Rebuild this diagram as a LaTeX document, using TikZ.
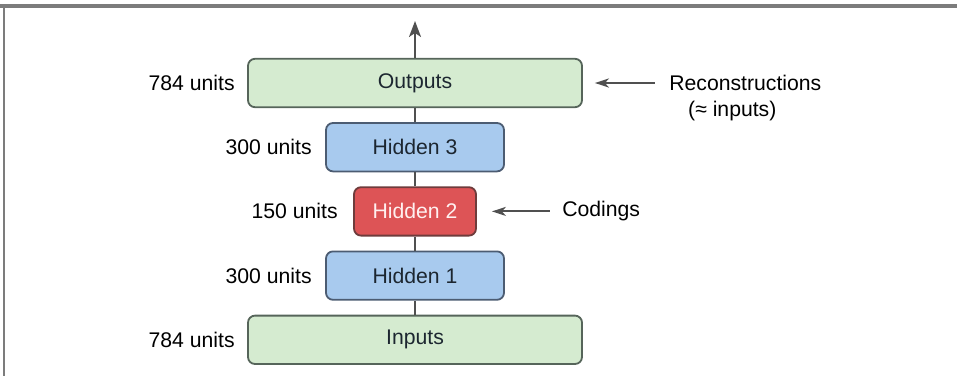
\documentclass[tikz,border=0pt]{standalone}
\usepackage{fontspec}
\setmainfont{Liberation Sans}
\usepackage{xcolor}
\usepackage{tikz}
\usetikzlibrary{arrows.meta,positioning}
\definecolor{grnfill}{HTML}{D5EBD0}
\definecolor{grnline}{HTML}{56655A}
\definecolor{bluefill}{HTML}{A8CAEE}
\definecolor{blueline}{HTML}{4C5C72}
\definecolor{redfill}{HTML}{DD5456}
\definecolor{redline}{HTML}{6E3C3C}
\definecolor{inkg}{HTML}{505050}
\definecolor{framec}{HTML}{7C7C7C}
\definecolor{txtdk}{HTML}{1C2630}
\tikzset{
  layer/.style={rectangle, rounded corners=3.5pt, line width=0.9pt, align=center,
                minimum height=24.2pt, inner sep=3pt, font=\fontsize{10.6}{12.7}\selectfont, text=txtdk},
  layergrn/.style={layer, draw=grnline, fill=grnfill, minimum width=167pt},
  layerblue/.style={layer, draw=blueline, fill=bluefill, minimum width=89pt},
  layerred/.style={layer, draw=redline, fill=redfill, minimum width=61pt, text=red!6},
  units/.style={inner sep=0pt, font=\fontsize{10.6}{12.7}\selectfont, text=black},
  fl/.style={-{Stealth[length=8pt,width=6pt,inset=2pt]}, line width=1pt, draw=inkg},
  la/.style={-{Stealth[length=7pt,width=4.5pt,inset=2pt]}, line width=1pt, draw=inkg},
  link/.style={line width=1pt, draw=inkg},
}
\begin{document}
\begin{tikzpicture}[x=0.5pt, y=0.5pt, node distance=7pt]
  \useasboundingbox (0,0) rectangle (957,376);
  % frame
  \draw[framec, line width=1.5pt] (0,370) -- (957,370);
  \draw[framec, line width=1pt] (4,370) -- (4,0);
  % layers
  \node[layergrn] (outp) at (415,293) {Outputs};
  \node[layerblue,below=of outp] (h3) {Hidden 3};
  \node[layerred,below=of h3] (h2) {Hidden 2};
  \node[layerblue,below=of h2] (h1) {Hidden 1};
  \node[layergrn,below=of h1] (inp) {Inputs};
  \coordinate (top) at (415,355);
  \draw[link] (inp)--(h1);\draw[link] (h1)--(h2);\draw[link] (h2)--(h3);\draw[link] (h3)--(outp);
  \draw[fl] (outp.north)--(top);
  % sizes
  \node[units,left=6pt of outp] (uo) {784 units};
  \node[units,left=6.5pt of h3] (u3) {300 units};
  \node[units,left=7.5pt of h2] (u2) {150 units};
  \node[units,left=6.5pt of h1] (u1) {300 units};
  \node[units,left=6pt of inp] (ui) {784 units};
  % notes
  \node[units,right=43pt of outp] (recon) {Reconstructions};
  \node[units,anchor=base] (recon2) at ([xshift=-6.5pt,yshift=-13pt]recon.base) {(≈ inputs)};
  \node[units,right=42.5pt of h2] (cod) {Codings};
  \draw[la, shorten <=7pt, shorten >=6pt] (recon.west)--(outp.east);
  \draw[la, shorten <=6pt, shorten >=7.5pt] (cod.west)--(h2.east);
\end{tikzpicture}
\end{document}
